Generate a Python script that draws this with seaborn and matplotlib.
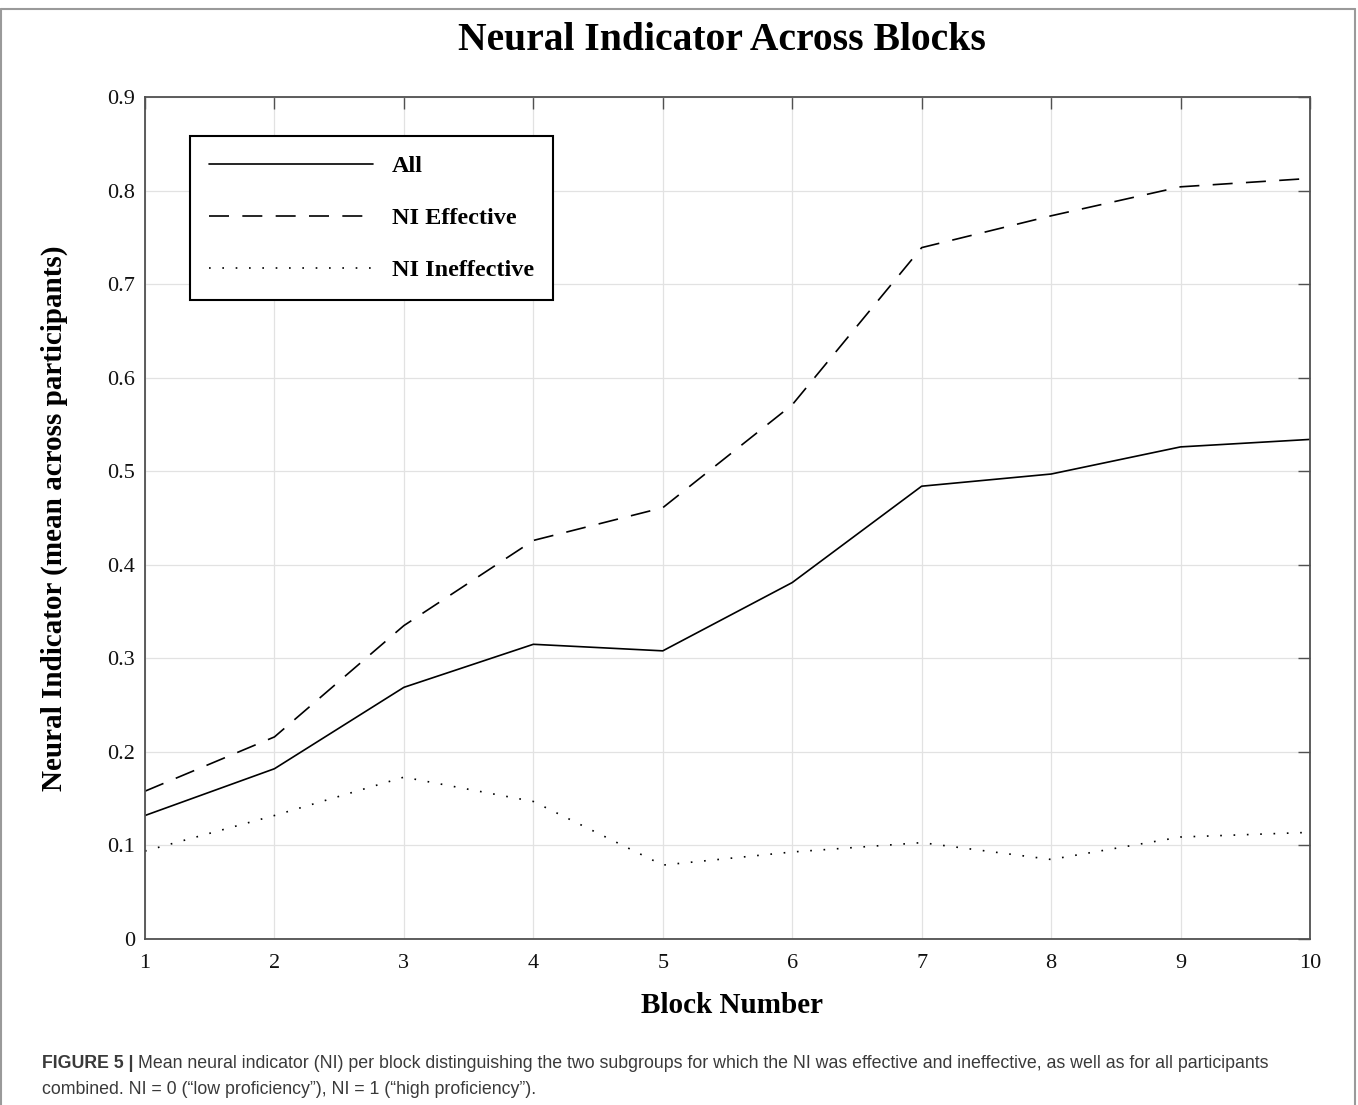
import matplotlib
matplotlib.use('Agg')
import matplotlib.pyplot as plt
from matplotlib.lines import Line2D
import seaborn as sns

# values
blocks = [1, 2, 3, 4, 5, 6, 7, 8, 9, 10]
ni_all = [0.132, 0.182, 0.269, 0.315, 0.308, 0.381, 0.484, 0.497, 0.526, 0.534]
ni_effective = [0.158, 0.216, 0.335, 0.426, 0.461, 0.571, 0.739, 0.773, 0.804, 0.813]
ni_ineffective = [0.094, 0.132, 0.173, 0.147, 0.079, 0.093, 0.103, 0.085, 0.109, 0.114]
series_names = ['All', 'NI Effective', 'NI Ineffective']
y_ticks = [0, 0.1, 0.2, 0.3, 0.4, 0.5, 0.6, 0.7, 0.8, 0.9]
y_ticklabels = ['0', '0.1', '0.2', '0.3', '0.4', '0.5', '0.6', '0.7', '0.8', '0.9']

title = 'Neural Indicator Across Blocks'
x_label = 'Block Number'
y_label = 'Neural Indicator (mean across participants)'
caption_head = 'FIGURE 5 | '
caption_1 = ('Mean neural indicator (NI) per block distinguishing the two subgroups for which '
             'the NI was effective and ineffective, as well as for all participants')
caption_2 = 'combined. NI = 0 (\u201clow proficiency\u201d), NI = 1 (\u201chigh proficiency\u201d).'

sns.set_style('white')
plt.rcParams['font.family'] = ['Liberation Serif', 'DejaVu Serif']
plt.rcParams['text.color'] = 'black'
plt.rcParams['axes.labelcolor'] = 'black'

W, H = 1358, 1105
fig = plt.figure(figsize=(W / 100, H / 100), dpi=100, facecolor='white')
ax = fig.add_axes([145 / W, 1 - 939 / H, 1165 / W, 842 / H])

styles = ['-', (0, (12, 8)), (0, (1, 7))]
for vals, name, ls in zip([ni_all, ni_effective, ni_ineffective], series_names, styles):
    sns.lineplot(x=blocks, y=vals, ax=ax, color='black', linewidth=1.2,
                 linestyle=ls, label=name)

ax.set_xlim(1, 10)
ax.set_ylim(0, 0.9)
ax.set_xticks(blocks)
ax.set_xticklabels([str(b) for b in blocks])
ax.set_yticks(y_ticks)
ax.set_yticklabels(y_ticklabels)
ax.grid(True, color='#e2e2e2', linewidth=0.9)
ax.set_axisbelow(True)

for s in ax.spines.values():
    s.set_color('#505050')
    s.set_linewidth(1.3)
ax.tick_params(axis='both', direction='in', top=True, right=True, length=8.5,
               width=1.0, color='#505050', labelsize=16, labelcolor='#111111')
ax.tick_params(axis='x', pad=11)
ax.tick_params(axis='y', pad=7)

ax.set_xlabel(x_label, fontsize=21, fontweight='bold')
ax.set_ylabel(y_label, fontsize=21, fontweight='bold')
ax.xaxis.set_label_coords(0.504, -0.063)
ax.yaxis.set_label_coords(-0.066, 0.5)

leg = ax.legend(loc='upper left', bbox_to_anchor=(0.0386, 0.954), borderaxespad=0,
                frameon=True, fancybox=False, framealpha=1, edgecolor='black',
                prop={'weight': 'bold', 'size': 17.5}, handlelength=6.75,
                handletextpad=0.75, borderpad=0.8, labelspacing=1.23)
leg.get_frame().set_linewidth(1.5)

fig.text(722 / W, 1 - 40 / H, title, ha='center', va='center', fontsize=28.5,
         fontweight='bold')

# caption under the chart
cap_kw = dict(family=['Liberation Sans', 'DejaVu Sans'], fontsize=12.8, color='#3a3a3a',
              va='center')
head = fig.text(42 / W, 1 - 1064 / H, caption_head, fontweight='bold', **cap_kw)
r = fig.canvas.get_renderer()
bb = head.get_window_extent(renderer=r)
fig.text(bb.x1 / W, 1 - 1064 / H, caption_1, **cap_kw)
fig.text(42 / W, 1 - 1089 / H, caption_2, **cap_kw)

# thin frame around the figure panel
fc = '#9a9a9a'
fig.add_artist(Line2D([1 / W, 1355 / W], [1 - 9 / H, 1 - 9 / H], transform=fig.transFigure,
                      color=fc, lw=1.5))
fig.add_artist(Line2D([1 / W, 1 / W], [0, 1 - 9 / H], transform=fig.transFigure,
                      color=fc, lw=1.5))
fig.add_artist(Line2D([1355 / W, 1355 / W], [0, 1 - 9 / H], transform=fig.transFigure,
                      color=fc, lw=1.5))

fig.savefig('out.png', dpi=100, facecolor='white')
